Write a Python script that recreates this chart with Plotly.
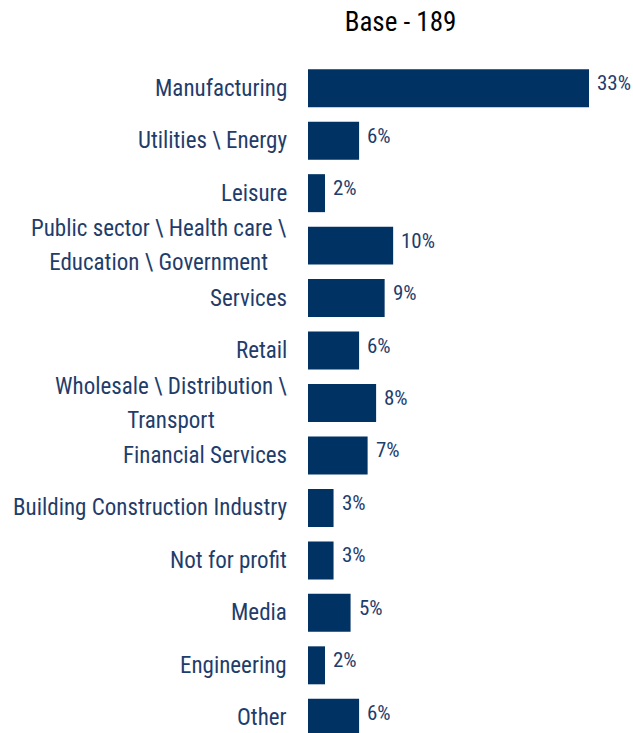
import plotly.graph_objects as go

# Industry breakdown of respondents (percent of base)
categories = [
    "Manufacturing",
    "Utilities \\ Energy",
    "Leisure",
    "Public sector \\ Health care \\<br>Education \\ Government",
    "Services",
    "Retail",
    "Wholesale \\ Distribution \\<br>Transport",
    "Financial Services",
    "Building Construction Industry",
    "Not for profit",
    "Media",
    "Engineering",
    "Other",
]
values = [33, 6, 2, 10, 9, 6, 8, 7, 3, 3, 5, 2, 6]
title_text = "Base - 189"

BAR_COLOR = "#003264"
LABEL_COLOR = "#1F3D6B"
FONT = "Roboto Condensed, Liberation Sans, sans-serif"

positions = list(range(len(categories)))

fig = go.Figure(
    go.Bar(
        x=values,
        y=positions,
        orientation="h",
        marker=dict(color=BAR_COLOR, line=dict(width=0)),
        hoverinfo="skip",
    )
)

# value labels just past the end of each bar
for pos, v in zip(positions, values):
    fig.add_annotation(
        x=v, y=pos, xref="x", yref="y",
        text=f"{v}%",
        showarrow=False,
        xanchor="left", yanchor="middle",
        xshift=6, yshift=5,
        font=dict(family=FONT, size=21, color=LABEL_COLOR),
    )

# category labels drawn as right-aligned, centre-justified text blocks
for pos, cat in zip(positions, categories):
    fig.add_annotation(
        x=0, y=pos, xref="paper", yref="y",
        text=f"<span style='font-size:23px'>{cat}</span>",
        showarrow=False,
        xanchor="right", yanchor="middle",
        align="center",
        xshift=-19,
        font=dict(family=FONT, size=26, color=LABEL_COLOR),
    )

fig.update_layout(
    width=633,
    height=733,
    margin=dict(l=308, r=25, t=62, b=0),
    paper_bgcolor="white",
    plot_bgcolor="white",
    showlegend=False,
    bargap=0.276,
    title=dict(
        text=title_text,
        x=400.5 / 633, xanchor="center",
        y=1 - 21.5 / 733, yanchor="middle",
        font=dict(family=FONT, size=27, color="black"),
    ),
    xaxis=dict(range=[0, 300 / 8.515], visible=False, fixedrange=True),
    yaxis=dict(range=[12.29, -0.5], visible=False, fixedrange=True),
)

fig.write_html("out.html")
